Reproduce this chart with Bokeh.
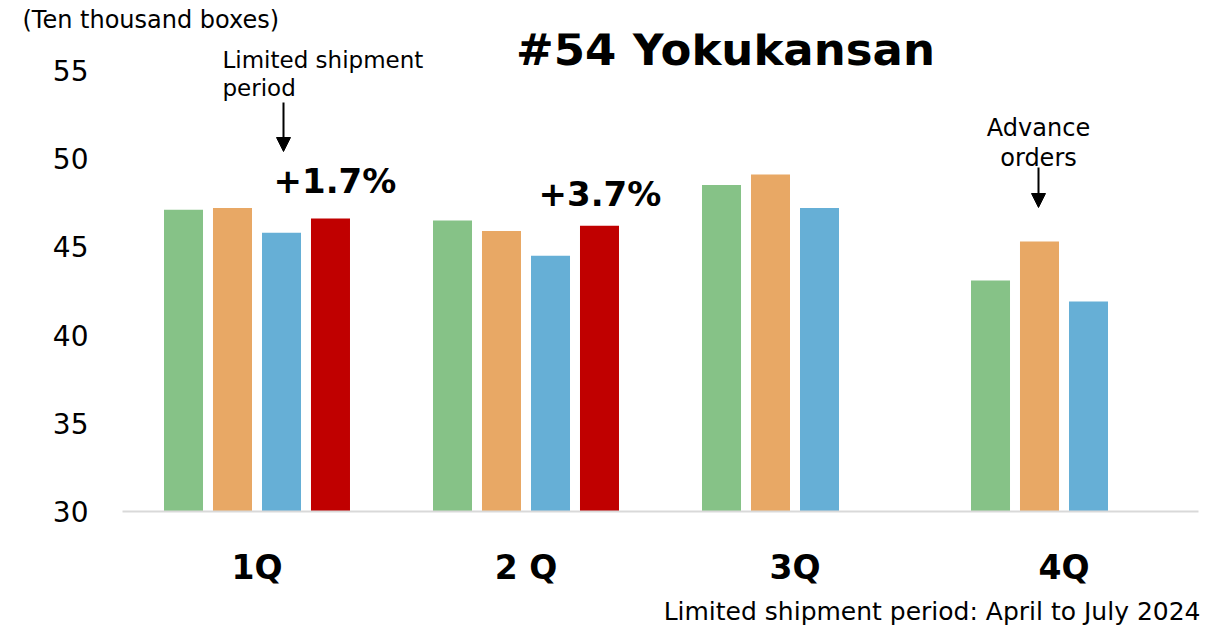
from bokeh.plotting import figure
from bokeh.models import (ColumnDataSource, FactorRange, Range1d, FixedTicker, Label,
                          Arrow, NormalHead, Title)
from bokeh.transform import dodge
from bokeh.embed import file_html
from bokeh.resources import INLINE

# ---- data ----
quarters = ["1Q", "2 Q", "3Q", "4Q"]
fy2021 = [47.1, 46.5, 48.5, 43.1]
fy2022 = [47.2, 45.9, 49.1, 45.3]
fy2023 = [45.8, 44.5, 47.2, 41.9]
fy2024 = [46.6, 46.2, None, None]
y_ticks = [30, 35, 40, 45, 50, 55]
growth_labels = ["+1.7%", "+3.7%"]

FONT = "DejaVu Sans"
colors = ["#86C287", "#E8A865", "#66AFD6", "#C00000"]

W, H = 1222, 630
FL, FB, FT = 122, 512, 33          # frame left / bottom / top on canvas
PX_PER_UNIT = 17.68
p = figure(width=W, height=H, output_backend="svg", toolbar_location=None,
           x_range=FactorRange(factors=quarters, range_padding=0),
           y_range=Range1d(30, 30 + (FB - FT) / PX_PER_UNIT),
           min_border_left=FL, min_border_right=24, min_border_top=FT,
           min_border_bottom=H - FB)
p.outline_line_color = None
p.grid.grid_line_color = None
p.background_fill_color = "white"

# bars
series = [fy2021, fy2022, fy2023, fy2024]
offsets = [-0.2732, -0.0911, 0.0911, 0.2732]
for vals, off, col in zip(series, offsets, colors):
    xs = [q for q, v in zip(quarters, vals) if v is not None]
    ys = [v for v in vals if v is not None]
    src = ColumnDataSource(dict(q=xs, v=ys))
    p.vbar(x=dodge("q", off, range=p.x_range), top="v", bottom=30, width=0.145,
           source=src, fill_color=col, line_color=None)

# axes
p.yaxis.ticker = FixedTicker(ticks=y_ticks)
p.yaxis.axis_line_color = None
p.yaxis.major_tick_line_color = None
p.yaxis.minor_tick_line_color = None
p.yaxis.major_label_text_font = FONT
p.yaxis.major_label_text_font_size = "28px"
p.yaxis.major_label_text_color = "black"
p.yaxis.major_label_standoff = 28

p.xaxis.axis_line_color = "#D9D9D9"
p.xaxis.axis_line_width = 2
p.xaxis.major_tick_line_color = None
p.xaxis.minor_tick_line_color = None
p.xaxis.major_label_text_font = FONT
p.xaxis.major_label_text_font_size = "33px"
p.xaxis.major_label_text_font_style = "bold"
p.xaxis.major_label_text_color = "black"
p.xaxis.major_label_standoff = 30


def sx(px):
    return px - FL


def sy(py):
    return FB - py


def lab(text, px, py, size, align="left", style="normal"):
    p.add_layout(Label(text=text, text_font=FONT, text_font_size=size,
                       x=sx(px), y=sy(py), x_units="screen", y_units="screen",
                       text_font_style=style, text_align=align,
                       text_baseline="middle", text_color="black"))


lab("#54 Yokukansan", 725, 50, "45px", align="center", style="bold")
lab("Limited shipment", 222, 60, "23px")
lab("period", 222, 88, "23px")
lab(growth_labels[0], 273, 181, "34px", style="bold")
lab(growth_labels[1], 538, 194, "34px", style="bold")
lab("Advance", 1038, 128, "24px", align="center")
lab("orders", 1038, 158, "24px", align="center")

has_standoff = "standoff" in Title.properties()
p.add_layout(Title(text="(Ten thousand boxes)", align="left", offset=22 - FL,
                   text_font=FONT, text_font_size="24px", text_font_style="normal",
                   text_color="black", **({"standoff": 0} if has_standoff else {})),
             "above")
p.add_layout(Title(text="Limited shipment period: April to July 2024", align="right",
                   text_font=FONT, text_font_size="25px", text_font_style="normal",
                   text_color="black", offset=-2), "below")

for ax, y0, y1 in [(283, 103, 152), (1038, 168, 208)]:
    p.add_layout(Arrow(x_start=sx(ax), y_start=sy(y0), x_end=sx(ax), y_end=sy(y1),
                       start_units="screen", end_units="screen",
                       line_color="black", line_width=2,
                       end=NormalHead(size=14, fill_color="black", line_color="black")))

open("out.html", "w").write(file_html(p, INLINE))
